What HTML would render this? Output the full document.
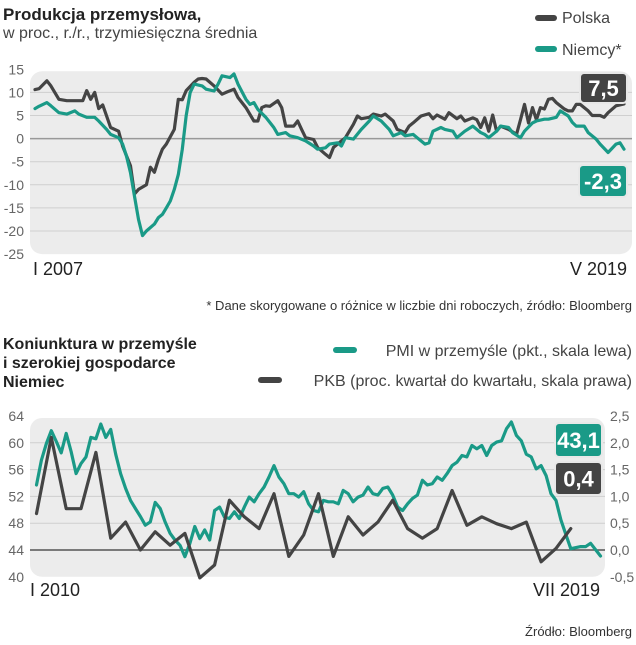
<!DOCTYPE html>
<html><head><meta charset="utf-8"><style>
html,body{margin:0;padding:0;background:#fff;}
body{width:636px;height:640px;overflow:hidden;font-family:"Liberation Sans Narrow","Liberation Sans",sans-serif;}
svg text{font-family:"Liberation Sans Narrow","Liberation Sans",sans-serif;}
</style></head><body>
<svg id="c" width="636" height="640" viewBox="0 0 636 640" xmlns="http://www.w3.org/2000/svg">
<text x="3" y="20" font-size="17" font-weight="bold" fill="#222">Produkcja przemysłowa,</text>
<text x="3" y="38" font-size="16" fill="#444">w proc., r./r., trzymiesięczna średnia</text>
<g><rect x="535" y="15" width="22" height="6" rx="3" fill="#444"/><text x="562" y="23" font-size="16" fill="#444">Polska</text></g>
<g><rect x="535" y="46" width="22" height="6" rx="3" fill="#1a9a87"/><text x="562" y="55" font-size="16" fill="#444">Niemcy*</text></g>
<g id="topChart"></g>
<text x="632" y="310" font-size="13" fill="#333" text-anchor="end">* Dane skorygowane o różnice w liczbie dni roboczych, źródło: Bloomberg</text>
<text x="3" y="349" font-size="16" font-weight="bold" fill="#222">Koniunktura w przemyśle</text>
<text x="3" y="368" font-size="16" font-weight="bold" fill="#222">i szerokiej gospodarce</text>
<text x="3" y="387" font-size="16" font-weight="bold" fill="#222">Niemiec</text>
<g><rect x="333" y="347" width="24" height="6" rx="3" fill="#1a9a87"/><text x="632" y="356" font-size="16" fill="#444" text-anchor="end">PMI w przemyśle (pkt., skala lewa)</text></g>
<g><rect x="258" y="377" width="24" height="6" rx="3" fill="#444"/><text x="632" y="386" font-size="16" fill="#444" text-anchor="end">PKB (proc. kwartał do kwartału, skala prawa)</text></g>
<g id="botChart"></g>
<text x="632" y="636" font-size="13" fill="#333" text-anchor="end">Źródło: Bloomberg</text>
</svg>
<script>
// Top chart data (month index from Jan 2007, value %)
const plMonths=[0,1,3,4,6,8,12,13,14,15,16,17,18,19,21,22,24,25,26,28,29,30,31,32,33,35,36,37,38,40,41,42,43,45,47,48,50,51,53,55,56,57,58,59,61,62,63,65,66,67,68,70,71,73,74,75,76,78,80,81,82,84,85,87,88,90,91,93,94,95,97,99,100,101,103,104,106,107,108,110,111,112,113,114,115,116,117,119,121,122,123,124,125,126,127,128,129,130,131,133,134,135,136,137,139,140,142,143,144,146,148];
const plValues=[10.6,10.8,12.5,11.4,8.5,8.2,8.2,10.4,8.5,10,6.5,7.3,4.9,2.4,1.6,-1.6,-5.9,-12,-11,-10,-6.2,-7.3,-4.5,-2.3,-1.2,2,8.5,8.4,10.4,12.2,12.9,13,12.9,11.4,9.6,10,10.7,8.9,6.7,3.8,3.8,6.7,7.1,7,8.2,6.7,2.7,2.7,3.8,2,0.2,-0.2,-1.9,-3.4,-4.1,-1.9,-1.2,0.2,3.1,4.9,4.3,4.6,5.3,4.9,5.3,3.8,2,1.3,2.7,3.4,4.9,5.4,4.3,5.1,4.2,5.6,4.3,4.9,3.8,4.5,4.1,2.4,4.5,1.6,5.1,1.6,2.7,2,0.9,4.1,7.4,3.4,6.7,4.1,6.7,6.4,8.5,8.7,7.8,6.4,6,6,7.4,7.4,6,5,5,4.6,5.6,7.1,7.5];
const deMonths=[0,1,3,4,6,8,10,11,13,15,16,18,19,21,22,23,24,25,26,27,28,30,31,32,33,34,35,36,37,38,39,40,42,43,45,46,47,49,50,51,53,54,55,56,58,59,60,61,63,64,66,68,70,71,73,74,76,77,78,80,82,84,85,87,89,90,92,93,95,96,98,99,100,102,103,105,106,108,110,112,113,114,116,117,119,120,122,123,125,126,128,129,131,132,134,135,136,138,139,141,142,144,146,147,148];
const deValues=[6.5,7,7.8,7.1,5.6,5.3,6,5.3,4.6,4.6,3.8,2,0.9,0.2,-1.2,-3.8,-7.4,-12.5,-17.5,-21,-20,-18.5,-17.1,-16.4,-15,-13.5,-11,-7.8,-2.3,5,10,11.8,11.4,10.7,10.3,11.8,13.6,13.2,14,11.8,8.5,7.4,7.8,6.3,4.6,3.5,2.4,0.9,1.3,0.6,0.2,-0.5,-1.6,-2.3,-2,-1.2,-0.9,-1.6,0.2,-0.1,2,3.8,4.9,3.8,2,0.6,1.3,0.6,0.9,0.2,-1.2,-0.9,1.6,2.4,2,1.6,0.2,1.6,2.7,1.3,0.9,0.2,1.6,2.7,2.4,1.3,0.2,1.6,3.4,3.8,4.2,4.2,4.6,6,4.9,3.5,2.7,2.7,1.3,-0.1,-1.2,-3,-1.2,-0.9,-2.3];
const topTicks=[15,10,5,0,-5,-10,-15,-20,-25];
const topXLabels=["I 2007","V 2019"];
const topCallouts=["7,5","-2,3"];
// Bottom chart data (month index from Jan 2010)
const pmiMonths=[0,1,2,3,4,5,6,7,8,9,10,11,12,13,14,15,16,17,18,19,20,21,22,23,24,25,26,27,28,29,30,31,32,33,34,35,36,37,38,39,40,41,42,43,44,45,46,47,48,49,50,51,52,53,54,55,56,57,58,59,60,61,62,63,64,65,66,67,68,69,70,71,72,73,74,75,76,77,78,79,80,81,82,83,84,85,86,87,88,89,90,91,92,93,94,95,96,97,98,99,100,101,102,103,104,105,106,107,108,110,111,112,114];
const pmiValues=[53.7,57.4,59.9,61.8,60.2,58.5,61.4,58.7,55.4,56.9,57.9,60.8,60.6,62.8,60.8,62,58.3,55.4,53.2,51.4,50.2,49,47.7,48.2,51.1,50.2,48.2,46.5,45.5,44.7,43,45,47.5,45.7,47,45.5,49.9,50.4,48.9,48.7,49.7,48.7,50.4,51.9,51.2,52.4,53.4,54.9,56.6,54.9,53.9,52.4,52.4,51.9,52.7,50.9,49.9,49.7,51.4,51.2,51.2,50.9,52.9,52.4,51.2,51.9,52.2,53.4,52.4,52.2,53.2,53.4,52.2,50.4,49.9,50.9,51.7,52.2,54.4,53.7,53.9,54.9,54.4,55.4,56.6,57.1,58.1,57.9,59.6,59.1,59.6,58.1,59.6,60.1,60.3,62.1,63.1,61.1,60.3,58.3,57.9,56.1,56.6,55.1,52.4,51.4,48.5,46.3,44.2,44.5,44.5,45,43.1];
const gdpValues=[0.68,2.1,0.77,0.77,1.82,0.22,0.52,0.0,0.34,0.09,0.31,-0.52,-0.28,0.93,0.62,0.4,1.05,-0.12,0.28,1.05,-0.12,0.62,0.28,0.52,0.93,0.4,0.22,0.4,1.11,0.46,0.62,0.49,0.4,0.52,-0.22,0.03,0.4];
const leftTicks=[64,60,56,52,48,44,40];
const rightTicks=["2,5","2,0","1,5","1,0","0,5","0,0","-0,5"];
const botXLabels=["I 2010","VII 2019"];
const botCallouts=["43,1","0,4"];

const NS="http://www.w3.org/2000/svg";
function mk(parent,tag,attrs){const e=document.createElementNS(NS,tag);for(const k in attrs)e.setAttribute(k,attrs[k]);parent.appendChild(e);return e;}
const TEAL="#1a9a87",DARK="#444";
function line(parent,xs,ys,col,w,name){const d=xs.map((x,i)=>(i?'L':'M')+x.toFixed(1)+' '+ys[i].toFixed(1)).join(' ');
  const p=mk(parent,'path',{d:d,fill:"none",stroke:col,"stroke-width":w,"stroke-linejoin":"round","stroke-linecap":"round"});
  
  }
function callout(parent,x,y,w,h,col,txt,name){const g=mk(parent,'g',{});
  
  
  mk(g,'rect',{x:x,y:y,width:w,height:h,rx:4,fill:col,stroke:"#e8e8e8","stroke-width":2});
  const t=mk(g,'text',{x:x+w/2,y:y+h/2+8,"font-size":22,"font-weight":"bold",fill:"#fff","text-anchor":"middle"});t.textContent=txt;}

// ---- top chart ----
const topG=document.getElementById('topChart');
const tx=m=>35+m*(624-35)/148;
const ty=v=>138.6-v*23.1/5;
let r=mk(topG,'rect',{x:30,y:ty(15)+2,width:602,height:ty(-25)-ty(15)-2,rx:12,fill:"#ececec"});


topTicks.forEach(t=>{
  if(t!==15&&t!==-25){const l=mk(topG,'line',{x1:30,x2:632,y1:ty(t),y2:ty(t),stroke:t===0?"#999":"#cfcfcf","stroke-width":t===0?1.5:1});
  
  }
  const tt=mk(topG,'text',{x:24,y:ty(t)+5,"font-size":14,fill:"#666","text-anchor":"end"});tt.textContent=t;
  
  
});
line(topG,plMonths.map(tx),plValues.map(ty),DARK,3.2,'polska-line');
line(topG,deMonths.map(tx),deValues.map(ty),TEAL,3.2,'niemcy-line');
let xl=mk(topG,'text',{x:33,y:275,"font-size":18,fill:"#222"});xl.textContent=topXLabels[0];


xl=mk(topG,'text',{x:627,y:275,"font-size":18,fill:"#222","text-anchor":"end"});xl.textContent=topXLabels[1];


callout(topG,580,73,47,30,DARK,topCallouts[0],'polska-callout');
callout(topG,579,165,48,32,TEAL,topCallouts[1],'niemcy-callout');

// ---- bottom chart ----
const botG=document.getElementById('botChart');
const bx=m=>36.5+m*(600.5-36.5)/114;
const by=v=>550-(v-44)*26.8/4;
const byr=v=>550-v*26.8/0.5;
r=mk(botG,'rect',{x:30,y:by(64)+2,width:575,height:by(40)-by(64)-2,rx:12,fill:"#ececec"});


leftTicks.forEach((t,i)=>{
  if(t!==64&&t!==40){const l=mk(botG,'line',{x1:30,x2:605,y1:by(t),y2:by(t),stroke:t===44?"#555":"#cfcfcf","stroke-width":t===44?1.5:1});
  
  }
  const tt=mk(botG,'text',{x:24,y:by(t)+5,"font-size":14,fill:"#666","text-anchor":"end"});tt.textContent=t;
  
  
  const tr=mk(botG,'text',{x:610,y:by(t)+5,"font-size":14,fill:"#666"});tr.textContent=rightTicks[i];
  
  
});
line(botG,pmiMonths.map(bx),pmiValues.map(by),TEAL,3.2,'pmi-line');
line(botG,gdpValues.map((v,i)=>bx(i*3)),gdpValues.map(byr),DARK,3.2,'pkb-line');
xl=mk(botG,'text',{x:30,y:596,"font-size":18,fill:"#222"});xl.textContent=botXLabels[0];


xl=mk(botG,'text',{x:600,y:596,"font-size":18,fill:"#222","text-anchor":"end"});xl.textContent=botXLabels[1];


callout(botG,555,423,47,34,TEAL,botCallouts[0],'pmi-callout');
callout(botG,555,462,47,33,DARK,botCallouts[1],'pkb-callout');
</script>
</body></html>
